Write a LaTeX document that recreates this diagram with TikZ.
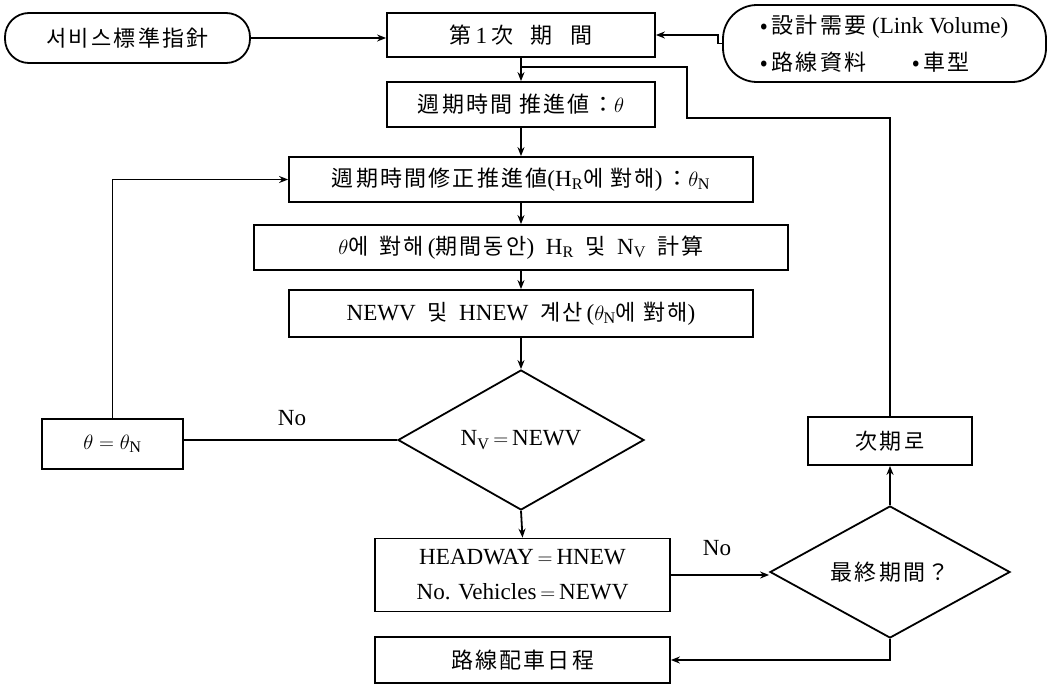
\documentclass[tikz,border=0pt]{standalone}
\usepackage{fontspec}
\setmainfont{Liberation Serif}[Scale=1.05]
\newfontfamily\kr{Noto Sans CJK KR}[LetterSpace=10]
\usetikzlibrary{shapes.geometric,arrows.meta}
\begin{document}
\begin{tikzpicture}[x=1pt,y=-1pt,
  every node/.style={font=\fontsize{22}{26}\selectfont},
  box/.style={draw, line width=1.8pt, inner sep=0pt},
  oval/.style={box, rounded corners=#1},
  dia/.style={draw, line width=1.8pt, diamond, inner sep=0pt},
  arr/.style={line width=1.8pt, -{Stealth[length=9pt,width=7pt]}},
  ln/.style={line width=1.8pt},
  lab/.style={inner sep=0pt}]
\useasboundingbox (0,0) rectangle (1051,685);
% nodes
\node[oval=24pt, minimum width=245, minimum height=50] (svc) at (127.5,38) {\kr 서비스標準指針};
\node[box, minimum width=268, minimum height=44] (box1) at (521,35) {{\kr 第}\,1\,{\kr 次\hspace{0.8em}期\hspace{0.8em}間}};
\node[oval=34pt, minimum width=323, minimum height=77, align=left,
      font=\fontsize{22}{37}\selectfont] (demand) at (884.5,43.5)
      {{\kr •\,設計需要} (Link Volume)\\{\kr •\,路線資料}\qquad{\kr •\,車型}};
\node[box, minimum width=268, minimum height=45] (box2) at (521,104.5) {{\kr 週期時間 推進値：}$\theta$};
\node[box, minimum width=464, minimum height=45] (box3) at (521,179.5)
      {{\kr 週期時間修正推進値}(H$_{\mathrm{R}}${\kr 에 對해})\,{\kr ：}$\theta_{\mathrm{N}}$};
\node[box, minimum width=534, minimum height=45] (box4) at (521,247.5)
      {$\theta${\kr 에\enspace 對해}\,({\kr 期間동안})\enspace H$_{\mathrm{R}}$\enspace{\kr 및}\enspace N$_{\mathrm{V}}$\enspace{\kr 計算}};
\node[box, minimum width=464, minimum height=47] (box5) at (521,313.5)
      {NEWV\enspace{\kr 및}\enspace HNEW\enspace{\kr 계산}\,($\theta_{\mathrm{N}}${\kr 에 對해})};
\node[dia, minimum width=246, minimum height=140, aspect=1.76] (dia1) at (521,440)
      {N$_{\mathrm{V}}$\,$=$\,NEWV};
\node[box, minimum width=141, minimum height=50] (thb) at (112.5,444) {$\theta=\theta_{\mathrm{N}}$};
\node[box, minimum width=295, minimum height=73, align=center,
      font=\fontsize{22}{35}\selectfont] (head) at (522.5,575)
      {HEADWAY\,$=$\,HNEW\\No. Vehicles\,$=$\,NEWV};
\node[box, minimum width=295, minimum height=46] (route) at (522.5,660) {\kr 路線配車日程};
\node[dia, minimum width=240, minimum height=132, aspect=1.8] (dia2) at (890,572) {\kr 最終期間？};
\node[box, minimum width=164, minimum height=48] (next) at (890,441) {\kr 次期로};
\node[lab] (no1) at (292,418) {No};
\node[lab] (no2) at (717,548) {No};
% helper coordinates
\coordinate (jx) at (718,0);
\coordinate (fb1) at (687,67);
\coordinate (fb2) at (687,118);
% connectors
\draw[arr] (svc.east) -- (svc.east -| box1.west);
\draw[arr] (demand.west) -- (demand.west -| jx) -- (jx |- box1.east) -- (box1.east);
\draw[arr] (box1.south) -- (box2.north);
\draw[ln] (next.north) -- (next.north |- fb2) -- (fb2) -- (fb1) -- (box1.south |- fb1);
\draw[arr] (box2.south) -- (box3.north);
\draw[arr] (box3.south) -- (box4.north);
\draw[arr] (box4.south) -- (box5.north);
\draw[arr] (box5.south) -- (dia1.north);
\draw[ln] (dia1.west) -- (dia1.west -| thb.east);
\draw[arr] (thb.north) |- (box3.west);
\draw[arr] (dia1.south) -- (head.north);
\draw[arr] (head.east) -- (head.east -| dia2.west);
\draw[arr] (dia2.north) -- (next.south);
\draw[arr] (dia2.south) |- (route.east);
\end{tikzpicture}
\end{document}
